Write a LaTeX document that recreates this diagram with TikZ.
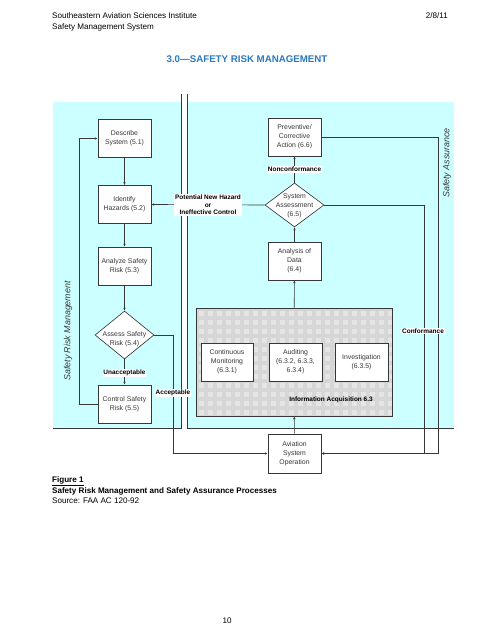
\documentclass[tikz,border=0pt]{standalone}
\usepackage{fontspec}
\setmainfont{Liberation Sans}
\usetikzlibrary{arrows.meta,shapes.geometric}
\definecolor{panel}{RGB}{204,255,255}
\definecolor{titleblue}{RGB}{41,121,190}
\definecolor{boxline}{RGB}{55,55,55}
\definecolor{txtgray}{RGB}{55,55,55}
\definecolor{infogray}{RGB}{214,214,214}
\definecolor{infolight}{RGB}{229,229,229}
\begin{document}
\begin{tikzpicture}[x=1.23636pt,y=-1.23636pt,
  box/.style={draw=boxline, fill=white, line width=0.8pt, minimum width=65.5pt, minimum height=47pt,
    inner sep=1pt, align=center, text=txtgray, font=\fontsize{8.5}{11}\selectfont},
  dia/.style={diamond, draw=boxline, fill=white, line width=0.8pt, inner sep=0pt,
    minimum width=72.9pt, minimum height=59.3pt},
  diatxt/.style={align=center, text=txtgray, font=\fontsize{8.5}{11}\selectfont, inner sep=0pt},
  lbl/.style={fill=white, inner sep=1pt, align=center, font=\bfseries\fontsize{8}{9.4}\selectfont},
  conn/.style={draw=boxline, line width=0.8pt, -{Latex[length=3.5pt,width=3pt]}},
  plain/.style={draw=boxline, line width=0.8pt},
  sidelbl/.style={rotate=90, text=txtgray, font=\itshape\fontsize{11}{13}\selectfont}
]
\useasboundingbox (0,0) rectangle (495,640);
\fill[white] (0,0) rectangle (495,640);

% header
\node[anchor=base west, inner sep=0, font=\fontsize{10}{12}\selectfont] (h1) at (52,19) {Southeastern Aviation Sciences Institute};
\node[anchor=base west, inner sep=0, font=\fontsize{10}{12}\selectfont] (h2) at (52,30) {Safety Management System};
\node[anchor=base east, inner sep=0, font=\fontsize{10}{12}\selectfont] (hd) at (448,19) {2/8/11};
\node[anchor=base, inner sep=0, text=titleblue, font=\bfseries\fontsize{12}{14}\selectfont] (title) at (247,63) {3.0---SAFETY RISK MANAGEMENT};

% panels
\fill[panel] (53,102) rectangle (181,428);
\fill[panel] (187,102) rectangle (454,428);
\draw[plain] (181,94) -- (181,428) -- (53,428);
\draw[plain] (187,94) -- (187,428) -- (454,428);

\node[sidelbl] (srm) at (68,331) {Safety Risk Management};
\node[sidelbl] (sa) at (447,163) {Safety Assurance};

% info acquisition box
\node[fill=infogray, minimum width=242.3pt, minimum height=133.5pt, inner sep=0] (infobg) at (294,362) {};
\foreach \i in {0,...,21} {
  \foreach \j in {0,...,11} {
    \fill[infolight] ({199+9*\i},{311+9*\j}) rectangle ++(4.5,4.5);
  }
}
\node[draw=boxline, line width=0.8pt, minimum width=242.3pt, minimum height=133.5pt, inner sep=0] (info) at (294,362) {};
\node[anchor=base, inner sep=0, font=\bfseries\fontsize{8}{9.4}\selectfont] (infolbl) at (331,401) {Information Acquisition 6.3};

% SRM nodes
\node[box] (desc) at (124.5,138.5) {Describe\\System (5.1)};
\node[box] (ident) at (124.5,204.5) {Identify\\Hazards (5.2)};
\node[box] (anal) at (124.5,266) {Analyze Safety\\Risk (5.3)};
\node[dia, minimum height=59.3pt] (assess) at (124.5,335) {};
\node[diatxt] (assesst) at (124.5,339) {Assess Safety\\Risk (5.4)};
\node[box] (ctrl) at (124.5,404) {Control Safety\\Risk (5.5)};

% SA nodes
\node[box] (prev) at (294.5,137) {Preventive/\\Corrective\\Action (6.6)};
\node[dia, minimum height=54.4pt] (sysa) at (294.5,205) {};
\node[diatxt] (sysat) at (294.5,206) {System\\Assessment\\(6.5)};
\node[box] (data) at (294.5,261) {Analysis of\\Data\\(6.4)};
\node[box, minimum width=64.3pt] (cm) at (227,362) {Continuous\\Monitoring\\(6.3.1)};
\node[box] (aud) at (295.5,362) {Auditing\\(6.3.2, 6.3.3,\\6.3.4)};
\node[box] (inv) at (361.5,362) {Investigation\\(6.3.5)};
\node[box, minimum height=48.2pt] (avi) at (294.5,453.5) {Aviation\\System\\Operation};

% connectors SRM
\draw[conn] (desc) -- (ident);
\draw[conn] (ident) -- (anal);
\draw[conn] (anal) -- (assess);
\draw[conn] (assess) -- (ctrl) node[lbl, pos=0.55] (unacc) {Unacceptable};
\draw[conn] (ctrl.west) -- (79,404) |- (desc.west);
\draw[conn] (assess.east) -- (173,335) -- (173,453.5) -- (avi.west);
\node[lbl] (acc) at (173,393) {Acceptable};

% connectors SA
\draw[conn] (sysa.west) -- (ident.east);
\node[lbl] (pnh) at (208,205) {Potential New Hazard\\or\\Ineffective Control};
\draw[conn] (sysa) -- (prev) node[lbl, midway] (nonc) {Nonconformance};
\draw[conn] (data) -- (sysa);
\draw[conn] (info) -- (data);
\draw[conn] (avi) -- (info);
\draw[conn] (prev.east) -- (438,137) -- (438,453.5) -- (avi.east);
\draw[conn] (sysa.east) -- (424,205) -- (424,453.5) -- (avi.east);
\node[lbl] (conf) at (423,331) {Conformance};

% caption
\node[anchor=base west, inner sep=0, font=\bfseries\fontsize{10}{12}\selectfont] (fig) at (52,482) {\underline{Figure 1}};
\node[anchor=base west, inner sep=0, font=\bfseries\fontsize{10}{12}\selectfont] (cap) at (52,493) {Safety Risk Management and Safety Assurance Processes};
\node[anchor=base west, inner sep=0, font=\fontsize{10}{12}\selectfont] (src) at (52,503) {Source: FAA AC 120-92};
\node[anchor=base, inner sep=0, font=\fontsize{10}{12}\selectfont] (pg) at (227,623) {10};
\end{tikzpicture}
\end{document}
